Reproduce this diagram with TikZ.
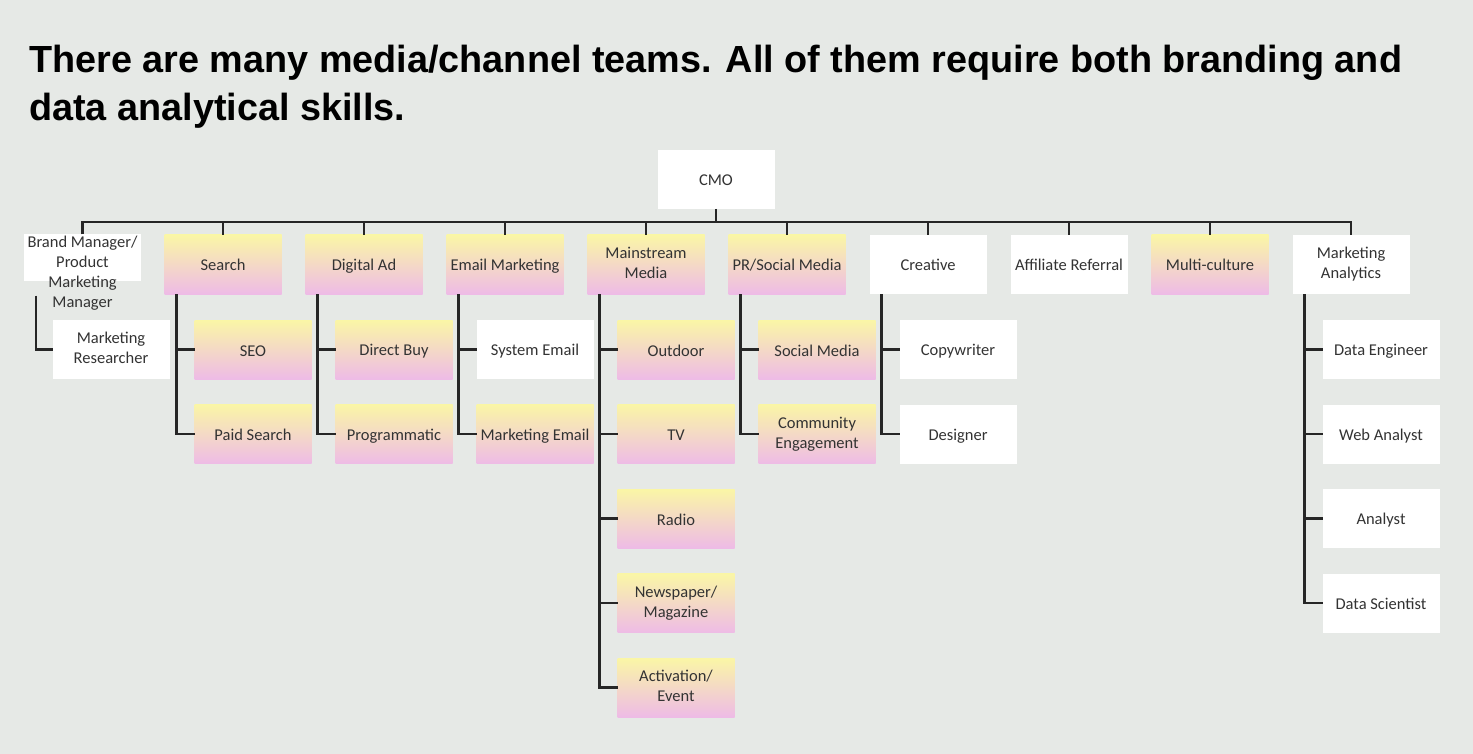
\documentclass[tikz,border=0pt]{standalone}
\usepackage{fontspec}
\setmainfont{Carlito}
\newfontfamily\headfont{Liberation Sans}
\usetikzlibrary{positioning}
\definecolor{bgcol}{HTML}{E6E9E6}
\definecolor{yel}{HTML}{FAF6A6}
\definecolor{pnk}{HTML}{F5D3D6}
\definecolor{lav}{HTML}{EEBBE6}
\definecolor{ink}{HTML}{333333}
\definecolor{linecol}{HTML}{262626}

\begin{document}
\begin{tikzpicture}[
  x=1pt, y=-1pt,
  box/.style = {
    minimum width = 117pt,
    minimum height = 59pt,
    inner sep = 0pt,
    outer sep = 0pt,
    align = center,
    text = ink,
    font = \fontsize{16.5}{20}\selectfont,
    execute at begin node = \rule{0pt}{15.5pt},
    execute at end node = \rule[-2.5pt]{0pt}{2.5pt},
  },
  pinkbox/.style = {box, top color=yel, middle color=pnk, bottom color=lav},
  whitebox/.style = {box, fill=white},
  wire/.style = {draw=linecol, line width=2.4pt},
]

  \fill[bgcol] (0,0) rectangle (1473,754);
  \useasboundingbox (0,0) rectangle (1473,754);

  \node[anchor=north west, inner sep=0pt, align=left,
        font=\headfont\bfseries\fontsize{37.8}{48}\selectfont] (title) at (29,45)
    {There are many media/channel teams. All of them require both branding and\\data analytical skills.};

  % top level
  \node[whitebox] (cmo) at (716,179.5) {CMO};
  \coordinate (hub) at (716,222);

  \node[whitebox, minimum height=46pt] (brand) at (82.5,257.5) {};
  \node[box, minimum width=0pt, minimum height=0pt] (brandtxt) at (82.5,273.5)
    {Brand Manager/\\Product\\Marketing\\Manager};

  \node[pinkbox] (search) at (223,264.5) {Search};
  \node[pinkbox] (digital) [right=24pt of search] {Digital Ad};
  \node[pinkbox] (email) [right=24pt of digital] {Email Marketing};
  \node[pinkbox] (mainstream) [right=24pt of email] {Mainstream\\Media};
  \node[pinkbox] (prsocial) [right=24pt of mainstream] {PR/Social Media};
  \node[whitebox] (creative) [right=24pt of prsocial] {Creative};
  \node[whitebox] (affiliate) [right=24pt of creative] {Affiliate Referral};
  \node[pinkbox] (multi) [right=24pt of affiliate] {Multi-culture};
  \node[whitebox] (analytics) [right=24pt of multi] {Marketing\\Analytics};

  % second level
  \node[whitebox] (researcher) [below=39.5pt of brand, xshift=28.5pt] {Marketing\\Researcher};

  \node[pinkbox] (seo) [below=26pt of search, xshift=30pt] {SEO};
  \node[pinkbox] (paid) [below=25.5pt of seo] {Paid Search};

  \node[pinkbox] (directbuy) [below=26pt of digital, xshift=30pt] {Direct Buy};
  \node[pinkbox] (programmatic) [below=25.5pt of directbuy] {Programmatic};

  \node[whitebox] (sysemail) [below=26pt of email, xshift=30pt] {System Email};
  \node[pinkbox] (mktemail) [below=25.5pt of sysemail] {Marketing Email};

  \node[pinkbox] (outdoor) [below=26pt of mainstream, xshift=30pt] {Outdoor};
  \node[pinkbox] (tv) [below=25.5pt of outdoor] {TV};
  \node[pinkbox] (radio) [below=25.5pt of tv] {Radio};
  \node[pinkbox] (newspaper) [below=25.5pt of radio] {Newspaper/\\Magazine};
  \node[pinkbox] (activation) [below=25.5pt of newspaper] {Activation/\\Event};

  \node[pinkbox] (socialmedia) [below=26pt of prsocial, xshift=30pt] {Social Media};
  \node[pinkbox] (community) [below=25.5pt of socialmedia] {Community\\Engagement};

  \node[whitebox] (copywriter) [below=26pt of creative, xshift=30pt] {Copywriter};
  \node[whitebox] (designer) [below=25.5pt of copywriter] {Designer};

  \node[whitebox] (dataeng) [below=26pt of analytics, xshift=30pt] {Data Engineer};
  \node[whitebox] (webanalyst) [below=25.5pt of dataeng] {Web Analyst};
  \node[whitebox] (analyst) [below=25.5pt of webanalyst] {Analyst};
  \node[whitebox] (datasci) [below=25.5pt of analyst] {Data Scientist};

  % connectors to the top level
  \draw[wire] (cmo) -- (hub);
  \draw[wire] (brand.north) |- (hub) -| (analytics.north);
  \draw[wire] (search.north) -- (search.north |- hub);
  \draw[wire] (digital.north) -- (digital.north |- hub);
  \draw[wire] (email.north) -- (email.north |- hub);
  \draw[wire] (mainstream.north) -- (mainstream.north |- hub);
  \draw[wire] (prsocial.north) -- (prsocial.north |- hub);
  \draw[wire] (creative.north) -- (creative.north |- hub);
  \draw[wire] (affiliate.north) -- (affiliate.north |- hub);
  \draw[wire] (multi.north) -- (multi.north |- hub);

  % connectors to the second level
  \draw[wire] ([xshift=12pt,yshift=-15pt]brand.south west) |- (researcher.west);

  \draw[wire] ([xshift=12pt]search.south west) |- (seo.west);
  \draw[wire] ([xshift=12pt]search.south west) |- (paid.west);

  \draw[wire] ([xshift=12pt]digital.south west) |- (directbuy.west);
  \draw[wire] ([xshift=12pt]digital.south west) |- (programmatic.west);

  \draw[wire] ([xshift=12pt]email.south west) |- (sysemail.west);
  \draw[wire] ([xshift=12pt]email.south west) |- (mktemail.west);

  \draw[wire] ([xshift=12pt]mainstream.south west) |- (outdoor.west);
  \draw[wire] ([xshift=12pt]mainstream.south west) |- (tv.west);
  \draw[wire] ([xshift=12pt]mainstream.south west) |- (radio.west);
  \draw[wire] ([xshift=12pt]mainstream.south west) |- (newspaper.west);
  \draw[wire] ([xshift=12pt]mainstream.south west) |- (activation.west);

  \draw[wire] ([xshift=12pt]prsocial.south west) |- (socialmedia.west);
  \draw[wire] ([xshift=12pt]prsocial.south west) |- (community.west);

  \draw[wire] ([xshift=12pt]creative.south west) |- (copywriter.west);
  \draw[wire] ([xshift=12pt]creative.south west) |- (designer.west);

  \draw[wire] ([xshift=12pt]analytics.south west) |- (dataeng.west);
  \draw[wire] ([xshift=12pt]analytics.south west) |- (webanalyst.west);
  \draw[wire] ([xshift=12pt]analytics.south west) |- (analyst.west);
  \draw[wire] ([xshift=12pt]analytics.south west) |- (datasci.west);

\end{tikzpicture}
\end{document}
